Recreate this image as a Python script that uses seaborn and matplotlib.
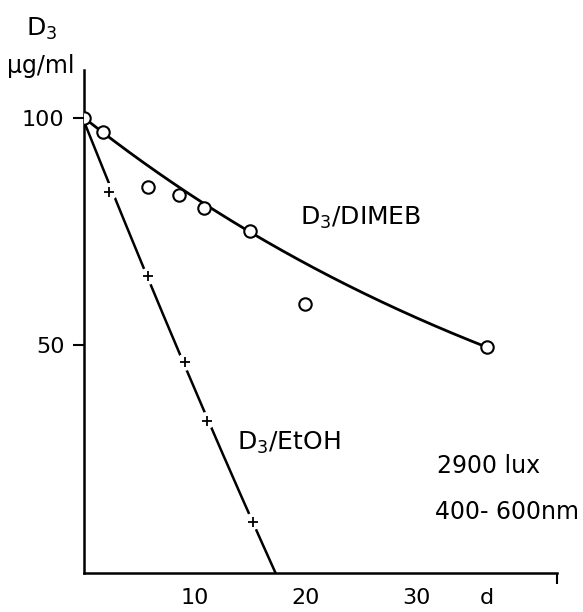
import numpy as np
import pandas as pd
import matplotlib
matplotlib.use("Agg")
import matplotlib.pyplot as plt
import seaborn as sns

# ---- data ----
dimeb_days = [0.0, 1.7, 5.8, 8.6, 10.8, 15.0, 19.9, 36.3]
dimeb_conc = [100.0, 96.8, 84.7, 83.0, 80.2, 75.2, 59.0, 49.6]
etoh_days = [0.0, 2.3, 5.8, 9.1, 11.05, 15.2]
etoh_conc = [100.0, 83.8, 65.2, 46.3, 33.5, 11.3]
x_ticks = [10, 20, 30, 36.3]
x_tick_labels = ["10", "20", "30", "d"]
y_ticks = [50, 100]
y_tick_labels = ["50", "100"]

sns.set_style("ticks")
plt.rcParams["font.family"] = ["DejaVu Sans"]
plt.rcParams["mathtext.fontset"] = "dejavusans"
for key in ("text.color", "axes.edgecolor", "axes.labelcolor",
            "xtick.color", "ytick.color"):
    plt.rcParams[key] = "black"

fig = plt.figure(figsize=(5.83, 6.12), dpi=100)
ax = fig.add_axes([0.144, 0.0637, 0.811, 0.822])

# fitted curves derived from the data
k = np.log(dimeb_conc[0] / dimeb_conc[-1]) / dimeb_days[-1]
xd = np.linspace(0, dimeb_days[-1], 300)
dimeb_fit = pd.DataFrame({"d": xd, "c": dimeb_conc[0] * np.exp(-k * xd)})

coef = np.polyfit(etoh_days, etoh_conc, 2)
roots = np.roots(coef)
root = min(r.real for r in roots if abs(r.imag) < 1e-9 and r.real > max(etoh_days))
xe = np.linspace(0, root, 300)
etoh_fit = pd.DataFrame({"d": xe, "c": np.polyval(coef, xe)})

sns.lineplot(data=dimeb_fit, x="d", y="c", color="black", lw=2.0, ax=ax)
sns.lineplot(data=etoh_fit, x="d", y="c", color="black", lw=1.8, ax=ax)

# gaps in the EtOH line around the crosses
etoh_df = pd.DataFrame({"d": etoh_days, "c": etoh_conc})
sns.scatterplot(data=etoh_df.iloc[1:], x="d", y="c", marker="o", s=150,
                color="white", edgecolor="none", linewidth=0, ax=ax, zorder=3)
sns.scatterplot(data=etoh_df, x="d", y="c", marker="+", s=60,
                color="black", linewidth=1.3, ax=ax, zorder=4)

dimeb_df = pd.DataFrame({"d": dimeb_days, "c": dimeb_conc})
sns.scatterplot(data=dimeb_df, x="d", y="c", marker="o", s=80,
                facecolor="white", edgecolor="black", linewidth=1.5, ax=ax, zorder=5)

ax.set_xlim(0, 42.6)
ax.set_ylim(0, 110.5)
sns.despine(ax=ax)
for s in ("left", "bottom"):
    ax.spines[s].set_linewidth(1.8)
    ax.spines[s].set_color("black")

ax.set_xticks(x_ticks)
ax.set_xticklabels(x_tick_labels, fontsize=16)
ax.tick_params(axis="x", length=0, pad=11, colors="black")
ax.set_xticks([42.6], minor=True)
ax.tick_params(axis="x", which="minor", length=8, width=1.5, direction="out", colors="black")
ax.set_yticks(y_ticks)
ax.set_yticklabels(y_tick_labels, fontsize=16)
ax.tick_params(axis="y", length=8, width=1.5, direction="out", pad=6, colors="black")
ax.set_xlabel("")
ax.set_ylabel("")

fig.text(0.045, 0.952, r"D$_3$", fontsize=18, ha="left", va="center", color="black")
fig.text(0.012, 0.892, "µg/ml", fontsize=17, ha="left", va="center", color="black")

ax.text(19.5, 78.0, r"D$_3$/DIMEB", fontsize=18, ha="left", va="center", color="black")
ax.text(13.8, 28.6, r"D$_3$/EtOH", fontsize=18, ha="left", va="center", color="black")
ax.text(31.8, 23.5, "2900 lux", fontsize=17, ha="left", va="center", color="black")
ax.text(31.6, 13.5, "400- 600nm", fontsize=17, ha="left", va="center", color="black")

fig.savefig("out.png", dpi=100)
